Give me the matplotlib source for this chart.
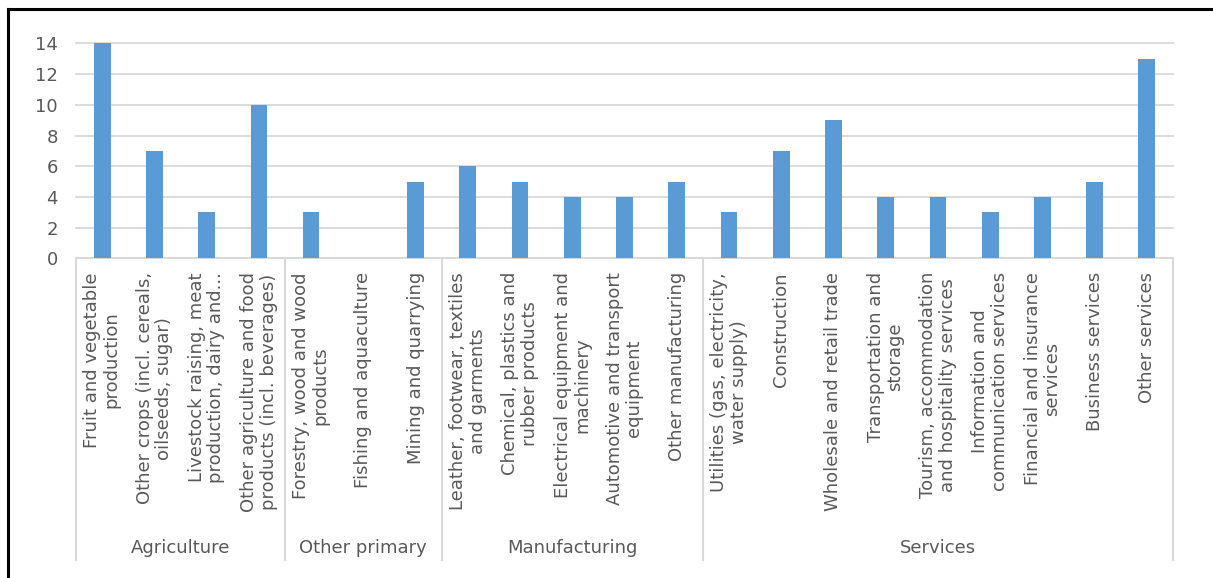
import matplotlib
matplotlib.use("Agg")
import matplotlib.pyplot as plt
import matplotlib.transforms as mtransforms
from matplotlib.lines import Line2D
import numpy as np

# datos
sectores = [
    "Fruit and vegetable\nproduction",
    "Other crops (incl. cereals,\noilseeds, sugar)",
    "Livestock raising, meat\nproduction, dairy and...",
    "Other agriculture and food\nproducts (incl. beverages)",
    "Forestry, wood and wood\nproducts",
    "Fishing and aquaculture",
    "Mining and quarrying",
    "Leather, footwear, textiles\nand garments",
    "Chemical, plastics and\nrubber products",
    "Electrical equipment and\nmachinery",
    "Automotive and transport\nequipment",
    "Other manufacturing",
    "Utilities (gas, electricity,\nwater supply)",
    "Construction",
    "Wholesale and retail trade",
    "Transportation and\nstorage",
    "Tourism, accommodation\nand hospitality services",
    "Information and\ncommunication services",
    "Financial and insurance\nservices",
    "Business services",
    "Other services",
]
valores = [14, 7, 3, 10, 3, 0, 5, 6, 5, 4, 4, 5, 3, 7, 9, 4, 4, 3, 4, 5, 13]
grupos = ["Agriculture", "Other primary", "Manufacturing", "Services"]
tam_grupos = [4, 3, 5, 9]

gris = "#595959"
linea = "#D9D9D9"

fig = plt.figure(figsize=(12.13, 5.78), dpi=100)
ax = fig.add_axes([0.0627, 0.5528, 0.967 - 0.0627, 0.925 - 0.5528])

x = np.arange(len(valores))
ax.bar(x, valores, width=0.32, color="#5B9BD5", zorder=3)
ax.set_xlim(-0.5, len(valores) - 0.5)
ax.set_ylim(0, 14)
ax.set_yticks(range(0, 15, 2))
ax.tick_params(axis="y", length=0, labelsize=13, labelcolor=gris, pad=13)
ax.set_xticks([])
ax.grid(axis="y", color=linea, linewidth=1.3, zorder=0)
for gl in ax.yaxis.get_gridlines():
    gl.set_clip_on(False)
for s in ["top", "right", "left"]:
    ax.spines[s].set_visible(False)
ax.spines["bottom"].set_color(linea)
ax.spines["bottom"].set_linewidth(1.3)

# etiquetas de categorias (eje x en datos, y en figura)
trans = mtransforms.blended_transform_factory(ax.transData, fig.transFigure)
for i, s in enumerate(sectores):
    ax.text(i, 0.5294, s, transform=trans, rotation=90, ha="center", va="top",
            multialignment="center", fontsize=13, color=gris, linespacing=1.1)

# separadores y nombres de grupo
y_ax = 0.5528
y_fin = 0.0311
bordes = np.concatenate([[0], np.cumsum(tam_grupos)]) - 0.5
for b in bordes:
    ax.add_line(Line2D([b, b], [y_fin, y_ax], transform=trans, color=linea,
                       linewidth=1.5, clip_on=False))
for g, b0, b1 in zip(grupos, bordes[:-1], bordes[1:]):
    ax.text((b0 + b1) / 2, 0.0519, g, transform=trans, ha="center", va="center",
            fontsize=13, color=gris)

# marco negro (arriba e izquierda)
fig.add_artist(Line2D([0.0070, 1], [0.9836, 0.9836], transform=fig.transFigure,
                      color="black", linewidth=2.2))
fig.add_artist(Line2D([0.0070, 0.0070], [0, 0.9836], transform=fig.transFigure,
                      color="black", linewidth=2.2))

fig.savefig("out.png", dpi=100)
